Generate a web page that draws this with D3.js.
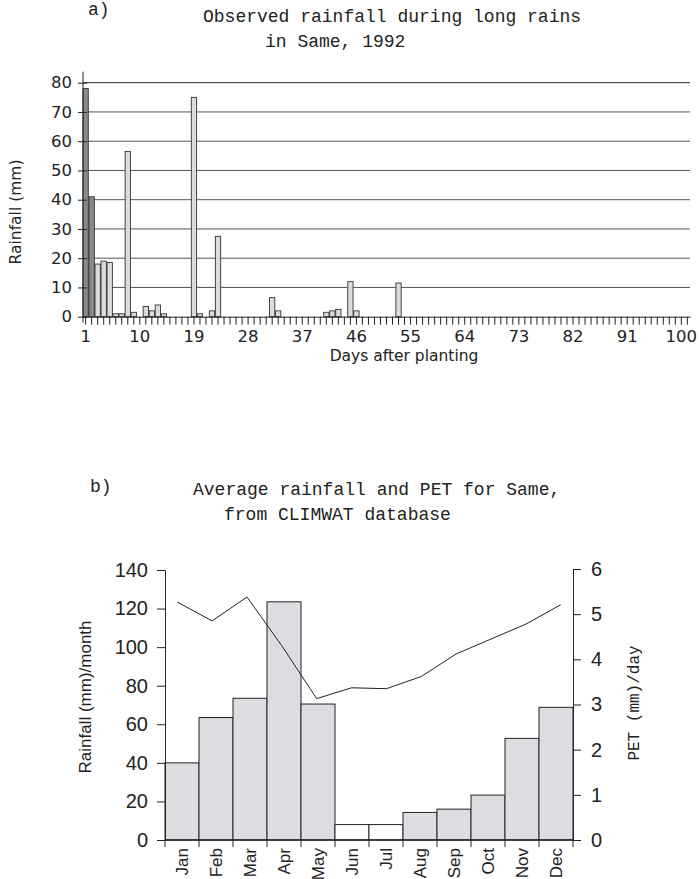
<!DOCTYPE html>
<html>
<head>
<meta charset="utf-8">
<script src="https://cdn.jsdelivr.net/npm/d3@7"></script>
<style>
  body { margin: 0; background: #fff; }
  svg { display: block; }
  .mono { font-family: "Liberation Mono", "Courier New", monospace; fill: #222; }
  .top-ax text { font-family: "DejaVu Sans", sans-serif; font-size: 16.5px; fill: #222; }
  .bot-ax text { font-family: "Liberation Sans", Arial, sans-serif; font-size: 20px; fill: #222; }
  .ax path, .ax line { stroke: #222; }
</style>
</head>
<body>
<div id="chart"></div>
<script>
const w = 700;
const h = 879;

// a) daily rainfall, 1992 long rains
const rainDays = [1, 2, 3, 4, 5, 6, 7, 8, 9, 11, 12, 13, 14, 19, 20, 22, 23, 32, 33, 41, 42, 43, 45, 46, 53];
const rainMm = [78, 41, 18, 19, 18.5, 1, 1, 56.5, 1.5, 3.5, 2, 4, 1, 75, 1, 2, 27.5, 6.5, 2, 1.5, 2, 2.5, 12, 2, 11.5];
const lastDay = 101;
const dayLabels = [1, 10, 19, 28, 37, 46, 55, 64, 73, 82, 91, 100];
const rainTicks = [0, 10, 20, 30, 40, 50, 60, 70, 80];

// b) CLIMWAT monthly averages
const months = ["Jan", "Feb", "Mar", "Apr", "May", "Jun", "Jul", "Aug", "Sep", "Oct", "Nov", "Dec"];
const monthRain = [40, 63.5, 73.5, 123.5, 70.5, 8, 8, 14.3, 16, 23.3, 52.7, 68.8];
const monthPet = [5.27, 4.85, 5.38, 4.3, 3.13, 3.37, 3.35, 3.62, 4.12, 4.45, 4.78, 5.21];
const monthRainTicks = [0, 20, 40, 60, 80, 100, 120, 140];
const petTicks = [0, 1, 2, 3, 4, 5, 6];

const svg = d3.select("#chart")
  .append("svg")
  .attr("width", w)
  .attr("height", h);

//---------------- chart a ----------------
const aLeft = 83, aRight = 690, aTop = 82.7, aBottom = 316.7;

const xDay = d3.scaleBand()
  .domain(d3.range(1, lastDay + 1))
  .range([aLeft, aRight])
  .paddingInner(0.12);
const yDay = d3.scaleLinear().domain([0, 80]).range([aBottom, aTop]);

svg.append("text").attr("class", "mono").attr("x", 88).attr("y", 15)
  .style("font-size", "18px").text("a)");
svg.append("text").attr("class", "mono").attr("x", 203).attr("y", 22)
  .style("font-size", "18px").attr("xml:space", "preserve")
  .text("Observed rainfall during long rains");
svg.append("text").attr("class", "mono").attr("x", 265).attr("y", 47)
  .style("font-size", "18px").attr("xml:space", "preserve")
  .text("in Same, 1992");

// gridlines
svg.append("g")
  .selectAll("line")
  .data(rainTicks.slice(1))
  .enter()
  .append("line")
  .attr("x1", aLeft).attr("x2", aRight)
  .attr("y1", d => yDay(d)).attr("y2", d => yDay(d))
  .attr("stroke", d => d === 80 ? "#222" : "#555")
  .attr("stroke-width", 1);

// bars
svg.append("g")
  .selectAll("rect")
  .data(rainDays)
  .enter()
  .append("rect")
  .attr("x", d => xDay(d))
  .attr("width", xDay.bandwidth())
  .attr("y", (d, i) => yDay(rainMm[i]))
  .attr("height", (d, i) => yDay(0) - yDay(rainMm[i]))
  .attr("fill", (d, i) => i < 2 ? "#8a8a8a" : "#dcdcdc")
  .attr("stroke", "#333")
  .attr("stroke-width", 0.9);

// y axis
svg.append("g")
  .attr("class", "ax top-ax")
  .attr("transform", `translate(${aLeft},0)`)
  .call(d3.axisLeft(yDay).tickValues(rainTicks).tickSize(5).tickSizeOuter(0).tickPadding(6))
  .call(g => g.select(".domain").attr("d", `M0,${aTop - 11}V${aBottom + 6}`))
  .call(g => g.selectAll(".tick line").attr("x2", -5).attr("x1", 4));

// x axis: a tick every day, label every 9 days
const xAxisA = svg.append("g")
  .attr("class", "ax top-ax")
  .attr("transform", `translate(0,${aBottom})`)
  .call(d3.axisBottom(xDay)
    .tickValues(d3.range(1, lastDay + 1))
    .tickSize(8).tickSizeOuter(0).tickPadding(6)
    .tickFormat(d => dayLabels.includes(d) ? d : ""));
xAxisA.select(".domain").attr("stroke", "#333");
xAxisA.selectAll(".tick line").attr("stroke", "#444").attr("stroke-width", 1);

svg.append("text")
  .attr("x", 404).attr("y", 361)
  .attr("text-anchor", "middle")
  .style("font-family", "DejaVu Sans, sans-serif")
  .style("font-size", "15.5px")
  .style("fill", "#222")
  .text("Days after planting");

svg.append("text")
  .attr("transform", "translate(21,212) rotate(-90)")
  .attr("text-anchor", "middle")
  .style("font-family", "DejaVu Sans, sans-serif")
  .style("font-size", "15.5px")
  .style("fill", "#222")
  .text("Rainfall (mm)");

//---------------- chart b ----------------
const bLeft = 165, bRight = 573, bTop = 570, bBottom = 840;

const xMonth = d3.scaleBand().domain(months).range([bLeft, bRight]).padding(0);
const xPet = d3.scalePoint().domain(months).range([bLeft, bRight]).padding(0.35);
const yRain = d3.scaleLinear().domain([0, 140]).range([bBottom, bTop]);
const yPet = d3.scaleLinear().domain([0, 6]).range([bBottom, bTop - 1]);

svg.append("text").attr("class", "mono").attr("x", 90).attr("y", 492)
  .style("font-size", "18px").text("b)");
svg.append("text").attr("class", "mono").attr("x", 193).attr("y", 495)
  .style("font-size", "18px").attr("xml:space", "preserve")
  .text("Average rainfall and PET for Same,");
svg.append("text").attr("class", "mono").attr("x", 224).attr("y", 520)
  .style("font-size", "18px").attr("xml:space", "preserve")
  .text("from CLIMWAT database");

// bars (months under 10 mm are left unfilled, as in the original)
svg.append("g")
  .selectAll("rect")
  .data(months)
  .enter()
  .append("rect")
  .attr("x", d => xMonth(d))
  .attr("width", xMonth.bandwidth())
  .attr("y", (d, i) => yRain(monthRain[i]))
  .attr("height", (d, i) => yRain(0) - yRain(monthRain[i]))
  .attr("fill", (d, i) => monthRain[i] < 10 ? "#fff" : "#dcdde0")
  .attr("stroke", "#222")
  .attr("stroke-width", 1);

// PET line
const petLine = d3.line()
  .x((d, i) => xPet(months[i]))
  .y(d => yPet(d));
svg.append("path")
  .datum(monthPet)
  .attr("d", petLine)
  .attr("fill", "none")
  .attr("stroke", "#222")
  .attr("stroke-width", 1);

// left axis
svg.append("g")
  .attr("class", "ax bot-ax")
  .attr("transform", `translate(${bLeft},0)`)
  .call(d3.axisLeft(yRain).tickValues(monthRainTicks).tickSize(8).tickSizeOuter(0).tickPadding(9));

// right axis
svg.append("g")
  .attr("class", "ax bot-ax")
  .attr("transform", `translate(${bRight},0)`)
  .call(d3.axisRight(yPet).tickValues(petTicks).tickFormat(d3.format("d"))
    .tickSize(8).tickSizeOuter(0).tickPadding(10));

// bottom axis: ticks at month boundaries
const bounds = months.map(m => xMonth(m)).concat([bRight]);
const xAxisB = svg.append("g").attr("class", "ax");
xAxisB.append("line")
  .attr("x1", bLeft).attr("x2", bRight)
  .attr("y1", bBottom).attr("y2", bBottom)
  .attr("stroke", "#222").attr("stroke-width", 1.5);
xAxisB.selectAll(".bt")
  .data(bounds)
  .enter()
  .append("line")
  .attr("class", "bt")
  .attr("x1", d => d).attr("x2", d => d)
  .attr("y1", bBottom).attr("y2", bBottom + 7)
  .attr("stroke", "#222");
xAxisB.selectAll("text")
  .data(months)
  .enter()
  .append("text")
  .attr("transform", d => `translate(${xMonth(d) + xMonth.bandwidth() / 2 + 6},${bBottom + 8}) rotate(-90)`)
  .attr("text-anchor", "end")
  .style("font-family", "Liberation Sans, Arial, sans-serif")
  .style("font-size", "17px")
  .style("fill", "#222")
  .text(d => d);

svg.append("text")
  .attr("transform", "translate(91,697) rotate(-90)")
  .attr("text-anchor", "middle")
  .style("font-family", "Liberation Sans, Arial, sans-serif")
  .style("font-size", "17px")
  .style("fill", "#222")
  .text("Rainfall (mm)/month");

svg.append("text")
  .attr("transform", "translate(639,703) rotate(-90)")
  .attr("text-anchor", "middle")
  .style("font-family", "Liberation Mono, Courier New, monospace")
  .style("font-size", "16px")
  .style("fill", "#222")
  .text("PET (mm)/day");
</script>
</body>
</html>
